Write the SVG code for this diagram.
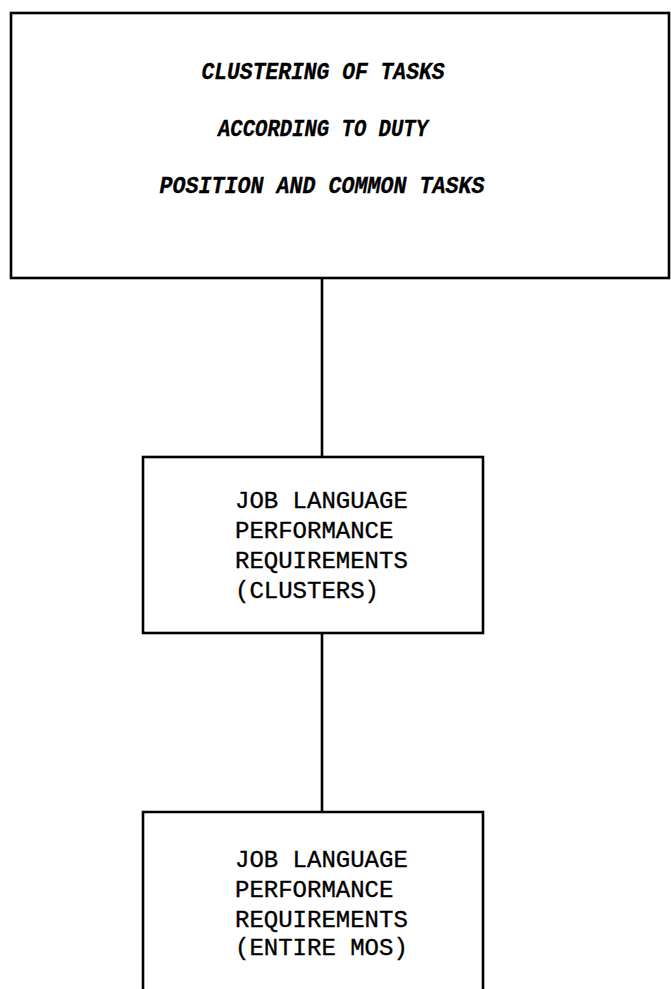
<svg xmlns="http://www.w3.org/2000/svg" width="671" height="989" viewBox="0 0 671 989">
<style>
.box{fill:none;stroke:#000;stroke-width:2.6;stroke-linejoin:miter}
.conn{fill:none;stroke:#000;stroke-width:2.6}
.t1{font-family:"Liberation Mono",monospace;font-weight:bold;font-style:italic;font-size:23px;fill:#000;stroke:#000;stroke-width:0.3;text-anchor:middle}
.t2{font-family:"Liberation Mono",monospace;font-size:24px;fill:#000;stroke:#000;stroke-width:0.35}
</style>
<rect width="671" height="989" fill="#fff"/>
<g id="connectors">
<line class="conn" x1="322" y1="278" x2="322" y2="457"/>
<line class="conn" x1="322" y1="633" x2="322" y2="812"/>
</g>
<g id="node-clustering">
<rect class="box" x="11" y="13" width="658" height="265"/>
<text class="t1" x="323" y="79" textLength="243" lengthAdjust="spacingAndGlyphs">CLUSTERING OF TASKS</text>
<text class="t1" x="323" y="136" textLength="210" lengthAdjust="spacingAndGlyphs">ACCORDING TO DUTY</text>
<text class="t1" x="322" y="193" textLength="325" lengthAdjust="spacingAndGlyphs">POSITION AND COMMON TASKS</text>
</g>
<g id="node-clusters">
<rect class="box" x="143" y="457" width="340" height="176"/>
<text class="t2" x="235" y="508">JOB LANGUAGE</text>
<text class="t2" x="235" y="538">PERFORMANCE</text>
<text class="t2" x="235" y="568">REQUIREMENTS</text>
<text class="t2" x="235" y="598">(CLUSTERS)</text>
</g>
<g id="node-entire-mos">
<path class="box" d="M143 989 V812 H483 V989"/>
<text class="t2" x="235" y="867">JOB LANGUAGE</text>
<text class="t2" x="235" y="897">PERFORMANCE</text>
<text class="t2" x="235" y="927">REQUIREMENTS</text>
<text class="t2" x="235" y="955">(ENTIRE MOS)</text>
</g>
</svg>
